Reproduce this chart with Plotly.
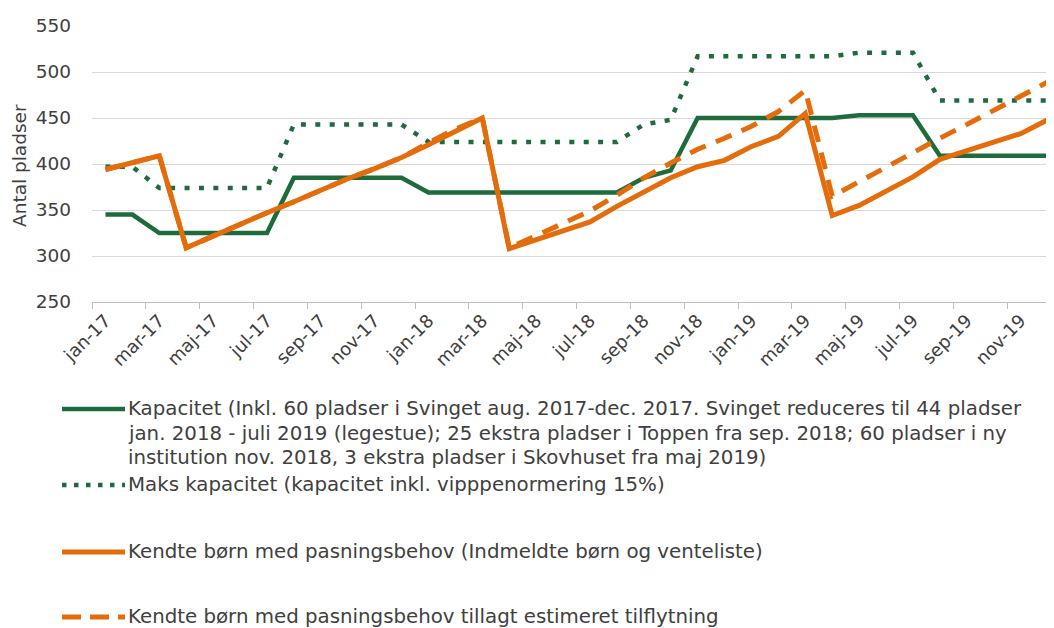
import plotly.graph_objects as go

# ---------------- data ----------------
months = [f"{m}-{y}" for y in ("17", "18", "19")
          for m in ("jan", "feb", "mar", "apr", "maj", "jun",
                    "jul", "aug", "sep", "okt", "nov", "dec")]

kapacitet = [345, 345, 325, 325, 325, 325, 325, 385, 385, 385, 385, 385,
             369, 369, 369, 369, 369, 369, 369, 369, 385, 393, 450, 450,
             450, 450, 450, 450, 453, 453, 453, 409, 409, 409, 409, 409]

maks_kapacitet = [397, 397, 374, 374, 374, 374, 374, 443, 443, 443, 443, 443,
                  424, 424, 424, 424, 424, 424, 424, 424, 443, 448, 517, 517,
                  517, 517, 517, 517, 521, 521, 521, 469, 469, 469, 469, 469]

kendte_boern = [394, 402, 409, 309, 322, 334, 347, 359, 372, 384, 395, 407,
                421, 435, 450, 308, 318, 327, 337, 354, 370, 385, 397, 404,
                419, 430, 455, 344, 355, 371, 386, 405, 414, 424, 433, 448]

kendte_tilflytning = [394, 402, 409, 309, 322, 334, 347, 359, 372, 384, 395, 407,
                      423, 438, 450, 309, 322, 335, 349, 366, 385, 401, 416, 428,
                      441, 457, 480, 365, 381, 397, 412, 428, 443, 458, 473, 489]

y_ticks = [250, 300, 350, 400, 450, 500, 550]

legend_lines = [
    "Kapacitet (Inkl. 60 pladser i Svinget aug. 2017-dec. 2017. Svinget reduceres til 44 pladser",
    "jan. 2018 - juli 2019 (legestue); 25 ekstra pladser i Toppen fra sep. 2018; 60 pladser i ny",
    "institution nov. 2018, 3 ekstra pladser i Skovhuset fra maj 2019)",
    "Maks kapacitet (kapacitet inkl. vipppenormering 15%)",
    "Kendte børn med pasningsbehov (Indmeldte børn og venteliste)",
    "Kendte børn med pasningsbehov tillagt estimeret tilflytning",
]

# ---------------- style ----------------
GREEN = "#1E6B3C"
ORANGE = "#E46C0A"
TEXT = "#404040"
FONT = "DejaVu Sans"

OFF = 8                      # page body margin of the html page
W, H = 1054 - OFF, 628 - OFF
L, R, T = 92 - OFF, 0, 26 - OFF
PLOT_BOTTOM = 302 - OFF
B = H - PLOT_BOTTOM
PW, PH = W - L - R, PLOT_BOTTOM - T


def xp(px):
    """window pixel x -> paper coordinate"""
    return (px - OFF - L) / PW


def yp(py):
    """window pixel y -> paper coordinate"""
    return (PLOT_BOTTOM - (py - OFF)) / PH


fig = go.Figure()
fig.add_trace(go.Scatter(x=months, y=kapacitet, mode="lines",
                         line=dict(color=GREEN, width=4.5), name="Kapacitet"))
fig.add_trace(go.Scatter(x=months, y=maks_kapacitet, mode="lines",
                         line=dict(color=GREEN, width=4.5, dash="5px,9.4px"),
                         name="Maks kapacitet"))
fig.add_trace(go.Scatter(x=months, y=kendte_boern, mode="lines",
                         line=dict(color=ORANGE, width=5), name="Kendte børn"))
fig.add_trace(go.Scatter(x=months, y=kendte_tilflytning, mode="lines",
                         line=dict(color=ORANGE, width=5, dash="17px,11px"),
                         name="Kendte børn tillagt"))

# legend drawn manually
ann = []
shapes = []
sym_x0, sym_x1, text_x = 62, 125, 126
rows = [(408, 0), (433, 1), (458, 2), (484, 3), (551, 4), (616, 5)]
for py, idx in rows:
    ann.append(dict(x=xp(text_x), y=yp(py), xref="paper", yref="paper",
                    text=legend_lines[idx], showarrow=False, xanchor="left",
                    yanchor="middle", font=dict(family=FONT, size=19.8, color=TEXT)))
sym = [(409, GREEN, 4.5, "solid"), (485, GREEN, 4.5, "4.5px,7.5px"),
       (552, ORANGE, 5, "solid"), (617, ORANGE, 5, "19px,9px")]
for py, col, wd, dsh in sym:
    shapes.append(dict(type="line", xref="paper", yref="paper",
                       x0=xp(sym_x0), x1=xp(sym_x1), y0=yp(py), y1=yp(py),
                       line=dict(color=col, width=wd, dash=dsh)))

# y axis title
ann.append(dict(x=xp(19), y=yp(166), xref="paper", yref="paper",
                text="Antal pladser", showarrow=False, textangle=-90,
                xanchor="center", yanchor="middle",
                font=dict(family=FONT, size=18.5, color=TEXT)))

fig.update_layout(
    width=W, height=H,
    margin=dict(l=L, r=R, t=T, b=B, autoexpand=False),
    paper_bgcolor="white", plot_bgcolor="white",
    showlegend=False,
    annotations=ann, shapes=shapes,
    xaxis=dict(type="category", categoryarray=months, range=[-0.5, 35.24],
               tickmode="linear", tick0=0, dtick=2, tickson="boundaries",
               ticks="outside", ticklen=6, tickcolor="#BFBFBF",
               showgrid=False, showline=True, linecolor="#BFBFBF", linewidth=1,
               tickangle=-45, tickfont=dict(family=FONT, size=18, color=TEXT),
               zeroline=False, automargin=False),
    yaxis=dict(range=[250, 550], tickvals=y_ticks, showgrid=True,
               gridcolor="#D9D9D9", gridwidth=1, zeroline=False,
               showline=False, ticks="", ticklabelstandoff=20, automargin=False,
               tickfont=dict(family=FONT, size=18.5, color=TEXT)),
)

fig.write_html("out.html")
